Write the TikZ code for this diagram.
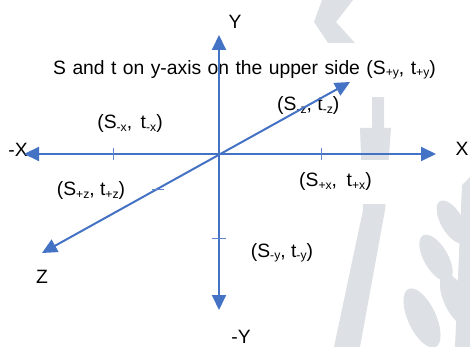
\documentclass[tikz,border=0pt]{standalone}
\usepackage{fontspec}
\setmainfont{Liberation Sans}
\usetikzlibrary{arrows.meta}
\definecolor{axisblue}{HTML}{4472C4}
\definecolor{wmgray}{HTML}{DDE1E5}
\newcommand\sbx[1]{\raisebox{-0.22ex}{\fontsize{12.2}{12}\selectfont #1}}
\begin{document}
\begin{tikzpicture}[x=1pt,y=-1pt,
  font=\fontsize{19.3}{22}\selectfont,
  axis/.style={draw=axisblue, line width=2pt,
    {Triangle[length=15pt,width=14pt]}-{Triangle[length=15pt,width=14pt]}},
  tickmark/.style={draw=axisblue!85, line width=0.9pt},
  lbl/.style={fill=white, inner sep=2pt},
  wm/.style={fill=wmgray, draw=none}]
\useasboundingbox[fill=white] (0,0) rectangle (470,347);
% watermark
\fill[wm] (322,0) -- (353,0) -- (336,22) -- (355,43) -- (328,43) -- (314,22) -- cycle;
\fill[wm] (372,97) -- (384,97) -- (384,128) -- (391,128) -- (385,210) -- (360,347) -- (334,347) -- (363,210) -- (360,128) -- (372,128) -- cycle;
\fill[wm, rotate around={-60:(452,222)}] (452,222) ellipse (24 and 11);
\fill[wm, rotate around={-60:(436,258)}] (436,258) ellipse (26 and 12);
\fill[wm, rotate around={-65:(422,318)}] (422,318) ellipse (32 and 14);
\fill[wm, rotate around={-65:(456,300)}] (456,300) ellipse (28 and 12);
\fill[wm] (462,185) -- (470,177) -- (470,347) -- (455,347) -- cycle;
% labels
\node[lbl] (ylab) at (235,22) {Y};
\node[lbl, anchor=west, inner xsep=0pt, text width=412pt, minimum height=54pt] (title) at (53,70)
  {S and t on y-axis on the upper side (S\sbx{+y}, t\sbx{+y})};
\node[lbl, anchor=west, inner xsep=0pt] (szm) at (277,106) {(S\sbx{-z}, t\sbx{-z})};
\node[lbl] (sxm) at (130,124) {(S\sbx{-x},\, t\sbx{-x})};
\node[lbl] (xmlab) at (18,150) {-X};
\node[lbl, inner sep=0pt] (xlab) at (462,149) {X};
\node[lbl, anchor=west, inner xsep=0pt, text width=92pt, minimum height=44pt] (sxp) at (299,182)
  {(S\sbx{+x},\, t\sbx{+x})};
\node[lbl] (szp) at (91,191) {(S\sbx{+z}, t\sbx{+z})};
\node[lbl] (zlab) at (42,277) {Z};
\node[lbl] (sym) at (282,253) {(S\sbx{-y}, t\sbx{-y})};
\node[lbl] (ymlab) at (241,337) {-Y};
% axes
\coordinate (O) at (219,154);
\coordinate (Yt) at (219,35);
\coordinate (Yb) at (219,310);
\coordinate (Xr) at (436,154);
\coordinate (Xl) at (24,154);
\coordinate (Zr) at (350,82);
\coordinate (Zl) at (42,253);
\draw[axis] (Yb) -- (Yt);
\draw[axis] (Xl) -- (Xr);
\draw[axis] (Zl) -- (Zr);
% ticks
\coordinate (t1) at (113,154);
\coordinate (t2) at (321,154);
\coordinate (t3) at (219,238);
\coordinate (t4) at (158,189);
\draw[tickmark] ([yshift=-6pt]t1) -- ([yshift=6pt]t1);
\draw[tickmark] ([yshift=-6pt]t2) -- ([yshift=6pt]t2);
\draw[tickmark] ([xshift=-7pt]t3) -- ([xshift=7pt]t3);
\draw[tickmark] ([xshift=-6pt]t4) -- ([xshift=6pt]t4);
\end{tikzpicture}
\end{document}
